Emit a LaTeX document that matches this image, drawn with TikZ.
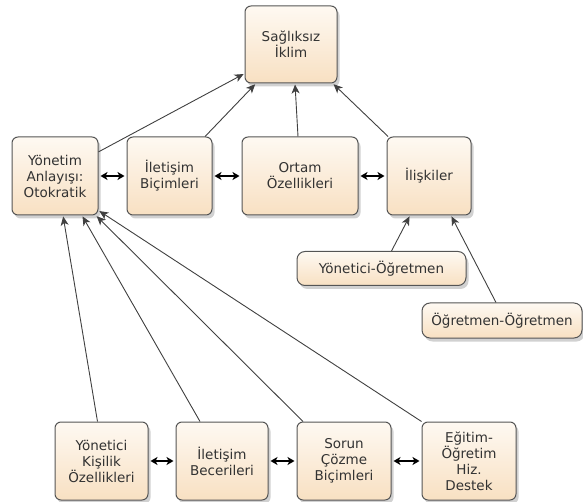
\documentclass[tikz,border=0pt]{standalone}
\usepackage{fontspec}
\setmainfont{DejaVu Sans}
\usepackage{tikz}
\usetikzlibrary{arrows.meta,positioning,shapes,shadows}

\definecolor{boxtop}{RGB}{254,249,242}
\definecolor{boxbottom}{RGB}{248,224,194}
\definecolor{boxline}{RGB}{85,85,85}
\definecolor{boxtext}{RGB}{50,50,50}

\begin{document}
\begin{tikzpicture}[x=1pt,y=-1pt,
  box/.style={draw=boxline,line width=1pt,rounded corners=6pt,
    top color=boxtop,bottom color=boxbottom,
    drop shadow={shadow xshift=2.5pt,shadow yshift=-3.5pt,opacity=.18,fill=black},
    minimum height=78pt,inner sep=2pt,align=center,text=boxtext,
    font=\fontsize{13.5}{16}\selectfont},
  flat/.style={box,minimum height=34pt,rounded corners=8pt},
  to/.style={-{Stealth[length=9pt,width=8pt,inset=2.5pt]},draw=black!75,line width=.9pt,shorten >=1pt},
  both/.style={{Stealth[length=7pt,width=8pt,inset=2pt]}-{Stealth[length=7pt,width=8pt,inset=2pt]},
    draw=black,line width=1.4pt,shorten >=2pt,shorten <=2pt}]

    \useasboundingbox (0,0) rectangle (583,502);

    % top
    \node[box,minimum width=92pt,minimum height=77pt](klim) at (291,44.5){Sağlıksız\\İklim};

    % middle row
    \node[box,minimum width=86pt](yonetim) at (55,176){Yönetim\\Anlayışı:\\Otokratik};
    \node[box,minimum width=85pt](bicim) at (169.5,176){İletişim\\Biçimleri};
    \node[box,minimum width=116pt](ortam) at (300,176){Ortam\\Özellikleri};
    \node[box,minimum width=84pt](iliski) at (429,176){İlişkiler};

    \node[flat,minimum width=169pt](yonogr) at (381.5,268.5){Yönetici-Öğretmen};
    \node[flat,minimum width=160pt,minimum height=35pt](ogrogr) at (502,320.5){Öğretmen-Öğretmen};

    % bottom row
    \node[box,minimum width=93pt](kisilik) at (101.5,461){Yönetici\\Kişilik\\Özellikleri};
    \node[box,minimum width=92pt](beceri) at (222,461){İletişim\\Becerileri};
    \node[box,minimum width=94pt](sorun) at (344,461){Sorun\\Çözme\\Biçimleri};
    \node[box,minimum width=94pt](destek) at (469,461){Eğitim-\\Öğretim\\Hiz.\\Destek};

    % to the climate
    \draw[to](yonetim.29) -- (klim.212);
    \draw[to](bicim.48) -- (klim.228);
    \draw[to]([xshift=-2pt]ortam.north) -- ([xshift=4pt]klim.south);
    \draw[to](iliski.136) -- (klim.317);

    \draw[both](yonetim) -- (bicim);
    \draw[both](bicim) -- (ortam);
    \draw[both](ortam) -- (iliski);

    \draw[to]([xshift=10pt]yonogr.north) -- ([xshift=-19pt]iliski.south);
    \draw[to]([xshift=-6pt]ogrogr.north) -- ([xshift=22pt]iliski.south);

    % to the management style
    \draw[to]([xshift=-4pt]kisilik.north) -- ([xshift=8pt]yonetim.south);
    \draw[to]([xshift=-22pt]beceri.north) -- ([xshift=27pt]yonetim.south);
    \draw[to]([xshift=-41pt]sorun.north) -- ([xshift=41pt]yonetim.south);
    \draw[to](destek.north west) -- ([yshift=5pt]yonetim.south east);

    \draw[both](kisilik) -- (beceri);
    \draw[both](beceri) -- (sorun);
    \draw[both](sorun) -- (destek);
\end{tikzpicture}
\end{document}
